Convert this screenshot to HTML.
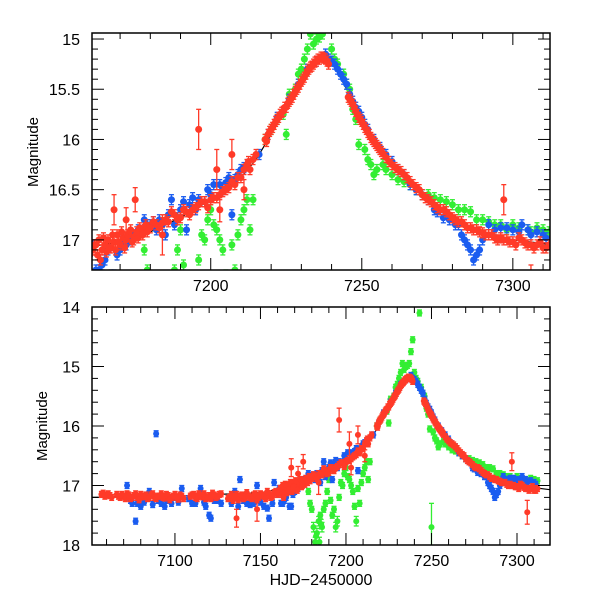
<!DOCTYPE html>
<html><head><meta charset="utf-8"><style>
body{margin:0;background:#fff}
svg{display:block;font-family:"Liberation Sans",sans-serif}
</style></head><body>
<svg id="chart" width="600" height="600" viewBox="0 0 600 600" xmlns="http://www.w3.org/2000/svg">
<defs>
<clipPath id="clipTop"><rect x="92" y="33" width="458" height="237"/></clipPath>
<clipPath id="clipBot"><rect x="92" y="307" width="458" height="238"/></clipPath>
</defs>
</svg>
<script>
// ---- data: HJD-2450000 and magnitude ----
const redT=[7058,7060,7062,7066,7068,7070,7072,7074,7076,7078,7080,7082,7084,7086,7088,7090,7092,7094,7096,7098,7100,7102,7104,7110,7112,7114,7116,7118,7120,7122,7124,7126,7132,7134,7136,7138,7140,7142,7144,7146,7148,7150,7152,7154,7156,7158,7160,7162,7164,7165,7166,7167,7168,7169,7170,7171,7172,7173,7174,7175,7176,7177,7178,7179,7180,7182,7184,7186,7188,7190,7192,7194,7196,7198,7200,7202,7204,7206,7208,7210,7211,7212,7214,7218,7219,7220,7221,7222,7223,7224,7225,7226,7227,7228,7229,7230,7231,7232,7233,7234,7235,7236,7237,7238,7246,7247,7248,7249,7250,7251,7252,7253,7254,7255,7256,7257,7258,7260,7262,7264,7266,7268,7270,7272,7274,7276,7278,7280,7282,7284,7286,7288,7290,7292,7294,7296,7298,7300,7302,7304,7306,7308,7310,7312];
const redM=[17.13,17.16,17.17,17.15,17.2,17.18,17.14,17.22,17.17,17.2,17.15,17.19,17.22,17.16,17.2,17.18,17.14,17.21,17.17,17.2,17.15,17.23,17.18,17.16,17.2,17.14,17.19,17.22,17.17,17.13,17.2,17.15,17.2,17.25,17.15,17.18,17.22,17.12,17.2,17.16,17.24,17.14,17.18,17.1,17.2,17.12,17.15,17.05,17.1,17.05,17.0,17.08,17.02,16.95,17.05,16.98,17.0,16.95,17.02,16.96,16.98,16.93,16.9,16.92,16.88,16.85,16.83,16.82,16.75,16.78,16.72,16.7,16.65,16.62,16.6,16.58,16.52,16.48,16.45,16.38,16.3,16.25,16.2,16.0,15.95,15.9,15.85,15.8,15.75,15.72,15.68,15.62,15.58,15.52,15.48,15.42,15.38,15.32,15.28,15.25,15.22,15.2,15.18,15.2,15.6,15.65,15.72,15.78,15.82,15.88,15.93,15.98,16.02,16.06,16.1,16.14,16.18,16.25,16.3,16.35,16.42,16.48,16.55,16.6,16.65,16.7,16.72,16.78,16.82,16.85,16.88,16.9,16.93,16.95,16.98,16.98,17.0,17.02,16.98,17.03,17.05,17.05,17.08,17.05];
const redT2=[7057,7059,7061,7063,7067,7069,7071,7073,7075,7077,7079,7081,7083,7085,7087,7089,7091,7093,7095,7097,7099,7101,7103,7105,7109,7111,7113,7115,7117,7119,7121,7123,7125,7127,7131,7133,7135,7137,7139,7141,7143,7145,7147,7149,7151,7153,7155,7157,7159,7161,7161.5,7162.5,7163,7163.5,7164.5,7165.5,7166.5,7167.5,7168.5,7169.5,7170.5,7171.5,7172.5,7173.5,7174.5,7175.5,7176.5,7177.5,7178.5,7179.5,7181,7183,7185,7187,7189,7191,7193,7195,7197,7199,7201,7203,7205,7207,7209,7212.5,7213,7215,7218.5,7219.5,7220.5,7221.5,7222.5,7223.5,7224.5,7225.5,7226.5,7227.5,7228.5,7229.5,7230.5,7231.5,7232.5,7233.5,7234.5,7235.5,7236.5,7237.5,7238.5,7239,7245.5,7246.5,7247.5,7248.5,7249.5,7250.5,7251.5,7252.5,7253.5,7254.5,7255.5,7256.5,7259,7261,7263,7265,7267,7269,7271,7273,7275,7277,7279,7281,7283,7285,7287,7289,7291,7293,7295,7297,7299,7301,7303,7305,7307,7309,7311];
const redM2=[17.15,17.18,17.14,17.2,17.18,17.15,17.22,17.16,17.2,17.14,17.24,17.18,17.16,17.2,17.14,17.22,17.18,17.2,17.15,17.24,17.18,17.2,17.16,17.22,17.18,17.15,17.22,17.17,17.14,17.2,17.22,17.16,17.18,17.14,17.22,17.15,17.2,17.24,17.16,17.2,17.18,17.22,17.14,17.2,17.16,17.22,17.14,17.18,17.1,17.1,17.05,17.15,17.0,17.2,16.98,17.12,17.08,16.95,17.1,17.02,16.92,17.08,16.95,16.9,17.0,16.92,16.88,16.95,16.85,16.88,16.82,16.88,16.8,16.72,16.8,16.7,16.75,16.68,16.62,16.68,16.58,16.55,16.5,16.42,16.38,16.22,16.3,16.15,16.02,15.92,15.88,15.82,15.78,15.73,15.68,15.64,15.6,15.55,15.5,15.45,15.4,15.35,15.3,15.27,15.23,15.2,15.18,15.19,15.22,15.25,15.58,15.62,15.68,15.75,15.8,15.85,15.9,15.95,16.0,16.04,16.08,16.12,16.22,16.28,16.32,16.38,16.45,16.5,16.58,16.62,16.68,16.7,16.75,16.8,16.82,16.88,16.9,16.92,16.95,16.95,17.0,17.0,17.02,17.05,17.0,17.05,17.08,17.02,17.08];
// outliers with large error bars
const redOutT=[7168,7175,7196,7202,7203,7207,7211,7297,7306,7148,7136,7184,7172];
const redOutM=[16.7,16.6,15.9,16.3,16.7,16.15,16.5,16.6,17.45,17.4,17.55,16.95,16.8];
const redOutE=[0.15,0.12,0.2,0.2,0.12,0.15,0.1,0.15,0.2,0.2,0.15,0.2,0.12];
const blueT=[7072,7075,7077,7080,7085,7089,7092,7095,7100,7104,7110,7115,7118,7120,7123,7127,7135,7138,7142,7148,7152,7155,7158,7160,7163,7165,7168,7170,7173,7176,7180,7183,7185,7188,7190,7192,7195,7198,7200,7203,7205,7208,7210,7212,7216,7219,7222,7226,7229,7232,7235,7238,7240,7242,7244,7246,7248,7252,7256,7260,7264,7268,7272,7275,7279,7282,7284,7286,7288,7290,7292,7296,7300,7303,7306,7310];
const blueM=[17.0,17.3,17.6,17.35,17.1,16.13,17.3,17.25,17.2,17.05,17.3,17.05,17.35,17.5,17.25,17.3,17.1,16.9,17.3,17.0,17.35,17.55,16.95,17.15,17.3,17.2,17.35,17.1,17.0,16.9,16.85,16.8,16.95,16.85,16.7,16.9,16.7,16.62,16.55,16.45,16.43,16.4,16.3,16.25,16.15,15.95,15.78,15.6,15.45,15.3,15.22,15.15,15.22,15.3,15.4,15.55,15.68,15.9,16.08,16.22,16.35,16.5,16.6,16.72,16.8,16.85,17.0,17.1,17.15,17.0,16.85,16.88,16.9,16.85,16.95,16.95];
const blueT2=[7074,7078,7082,7087,7090,7094,7098,7102,7108,7112,7117,7121,7125,7133,7137,7140,7144,7146,7150,7154,7157,7161,7162,7164,7166,7167,7169,7171,7172,7174,7177,7178,7179,7181,7182,7184,7186,7187,7189,7191,7193,7194,7196,7199,7201,7204,7206,7207,7209,7211,7239,7241,7243,7245,7247,7249,7250,7251,7254,7258,7262,7266,7270,7274,7277,7281,7283,7285,7287,7289,7294,7298,7302,7305,7308,7311];
const blueM2=[17.25,17.3,17.28,17.32,17.25,17.35,17.3,17.28,17.22,17.3,17.28,17.55,17.25,17.3,17.35,17.25,17.32,17.3,17.28,17.38,17.3,17.05,17.3,17.25,17.1,17.35,17.15,17.0,17.05,16.95,16.92,16.8,16.85,16.82,16.9,16.85,16.75,16.6,16.78,16.62,16.65,16.58,16.6,16.5,16.45,16.5,16.38,16.75,16.35,16.28,15.2,15.25,15.35,15.45,15.62,15.72,15.78,15.85,16.0,16.15,16.3,16.45,16.55,16.7,16.78,16.85,16.95,17.05,17.2,17.1,16.9,16.88,16.92,16.9,16.92,16.98];
const greenT=[7178,7180,7181,7182,7183,7184,7185,7186,7188,7190,7192,7194,7196,7198,7200,7202,7204,7206,7208,7210,7212,7218,7222,7225,7228,7230,7232,7233,7234,7235,7237,7238,7239,7240,7242,7243,7244,7246,7247,7249,7250,7252,7254,7257,7262,7266,7272,7276,7280,7284,7288,7292,7296,7300,7305,7308,7312];
const greenM=[17.1,17.4,17.7,17.95,17.8,17.6,17.5,17.7,17.3,16.9,17.5,17.7,17.2,17.0,16.7,16.9,17.1,17.6,17.3,16.8,16.6,16.0,15.8,15.95,15.5,15.3,15.1,14.95,15.05,15.0,14.95,14.75,14.55,15.1,15.25,14.1,15.35,15.5,15.7,16.05,17.7,16.2,16.35,16.25,16.4,16.45,16.55,16.6,16.65,16.7,16.8,16.82,16.85,16.85,16.9,16.88,16.92];
const greenT2=[7179,7182.5,7184.5,7185.5,7187,7189,7191,7193,7195,7197,7199,7201,7203,7205,7207,7209,7211,7213,7214,7220,7224,7226,7229,7231,7236,7241,7245,7248,7251,7253,7255,7258,7260,7264,7268,7270,7274,7278,7282,7286,7290,7294,7298,7302,7306,7310];
const greenM2=[17.3,17.85,17.95,17.65,17.4,17.1,17.25,17.4,17.6,16.95,16.8,16.85,17.0,17.35,17.05,16.95,16.7,16.9,16.6,15.9,15.75,15.55,15.35,15.2,14.98,15.2,15.45,15.8,16.1,16.25,16.3,16.3,16.35,16.42,16.5,16.55,16.58,16.62,16.7,16.72,16.8,16.85,16.9,16.88,16.92,16.9];
const modelT=[7050,7100,7150,7170,7180,7190,7200,7210,7215,7220,7225,7230,7236,7240,7245,7250,7256,7262,7270,7280,7290,7300,7322];
const modelM=[17.2,17.18,17.12,17.02,16.92,16.78,16.6,16.38,16.2,15.95,15.68,15.42,15.18,15.22,15.5,15.8,16.1,16.3,16.55,16.78,16.93,17.0,17.08];
const topXTicks=[7200,7250,7300];
const topYTicks=[15,15.5,16,16.5,17];
const botXTicks=[7100,7150,7200,7250,7300];
const botYTicks=[14,15,16,17,18];

const NS="http://www.w3.org/2000/svg";
const svg=document.getElementById('chart');
function mk(tag,attrs,parent){const e=document.createElementNS(NS,tag);for(const k in attrs)e.setAttribute(k,attrs[k]);(parent||svg).appendChild(e);return e;}

const panels=[
 {name:'top',x0:92,x1:550,y0:33,y1:270,t0:7160.7,t1:7312.3,m0:14.94,m1:17.3,clip:'clipTop',xt:topXTicks,yt:topYTicks,xminor:10,yminor:0.1,ymajor:0.5,ylabX:80,ytitleX:38,ytitleY:152,xlabY:291,r:3.5},
 {name:'bottom',x0:92,x1:550,y0:307,y1:545,t0:7051.5,t1:7319.3,m0:14,m1:18,clip:'clipBot',xt:botXTicks,yt:botYTicks,xminor:10,yminor:0.2,ymajor:1,ylabX:80,ytitleX:47,ytitleY:426,xlabY:566,r:3}
];
const RED='#ff3a28',BLUE='#1a5cf0',GREEN='#33ee33';

panels.forEach(p=>{
 const X=t=>p.x0+(t-p.t0)/(p.t1-p.t0)*(p.x1-p.x0);
 const Y=m=>p.y0+(m-p.m0)/(p.m1-p.m0)*(p.y1-p.y0);
 const g=mk('g',{'clip-path':'url(#'+p.clip+')'});
 
 
 const ml=mk('polyline',{points:modelT.map((t,i)=>X(t)+','+Y(modelM[i])).join(' '),fill:'none',stroke:'#000','stroke-width':1.2},g);
 
 
 function series(T,M,E,col,nm,defE){
  const sg=mk('g',{},g);
  
  
  T.forEach((t,i)=>{
   let e=E?E[i]:defE;
   if(nm==='green'&&M[i]>17.5)e=0.08;
   if(nm==='green'&&t===7250)e=0.4;
   const cx=X(t),cy=Y(M[i]);
   const cap=2.5;
   mk('line',{x1:cx,x2:cx,y1:Y(M[i]-e),y2:Y(M[i]+e),stroke:col,'stroke-width':1.3},sg);
   mk('line',{x1:cx-cap,x2:cx+cap,y1:Y(M[i]-e),y2:Y(M[i]-e),stroke:col,'stroke-width':1.3},sg);
   mk('line',{x1:cx-cap,x2:cx+cap,y1:Y(M[i]+e),y2:Y(M[i]+e),stroke:col,'stroke-width':1.3},sg);
   const c=mk('circle',{cx:cx,cy:cy,r:p.r,fill:col},sg);
   
   
  });
 }
 series(greenT,greenM,null,GREEN,'green',0.05);
 series(greenT2,greenM2,null,GREEN,'green',0.05);
 series(blueT,blueM,null,BLUE,'blue',0.05);
 series(blueT2,blueM2,null,BLUE,'blue',0.05);
 series(redT,redM,null,RED,'red',0.05);
 series(redT2,redM2,null,RED,'red',0.05);
 series(redOutT,redOutM,redOutE,RED,'red');
 const fr=mk('rect',{x:p.x0,y:p.y0,width:p.x1-p.x0,height:p.y1-p.y0,fill:'none',stroke:'#000','stroke-width':1.5});
 
 
 const tg=mk('g',{stroke:'#000','stroke-width':1});
 
 
 for(let t=Math.ceil(p.t0/p.xminor)*p.xminor;t<=p.t1;t+=p.xminor){
  const major=t%50===0,L=major?12:6,x=X(t);
  mk('line',{x1:x,x2:x,y1:p.y1,y2:p.y1-L},tg);
  mk('line',{x1:x,x2:x,y1:p.y0,y2:p.y0+L},tg);
 }
 const nM=Math.round((p.m1-p.m0)/p.yminor);
 for(let k=0;k<=nM+1;k++){
  const m=Math.ceil(p.m0/p.yminor-1e-6)*p.yminor+k*p.yminor;
  if(m>p.m1+1e-6)break;
  const major=Math.abs(m/p.ymajor-Math.round(m/p.ymajor))<1e-6,L=major?12:6,y=Y(m);
  mk('line',{x1:p.x0,x2:p.x0+L,y1:y,y2:y},tg);
  mk('line',{x1:p.x1,x2:p.x1-L,y1:y,y2:y},tg);
 }
 p.xt.forEach(t=>{
  const tx=mk('text',{x:X(t),y:p.xlabY,'text-anchor':'middle','font-size':16,fill:'#000'});
  tx.textContent=t;
  
  
 });
 p.yt.forEach(m=>{
  const tx=mk('text',{x:p.ylabX,y:Y(m)+6,'text-anchor':'end','font-size':16,fill:'#000'});
  tx.textContent=m;
  
  
 });
 const yt=mk('text',{x:p.ytitleX,y:p.ytitleY,'text-anchor':'middle','font-size':15,fill:'#000',transform:'rotate(-90 '+p.ytitleX+' '+p.ytitleY+')'});
 yt.textContent='Magnitude';
 
 
});
const xt=mk('text',{x:321,y:585,'text-anchor':'middle','font-size':16,fill:'#000'});
xt.textContent='HJD\u22122450000';


</script>
</body></html>
